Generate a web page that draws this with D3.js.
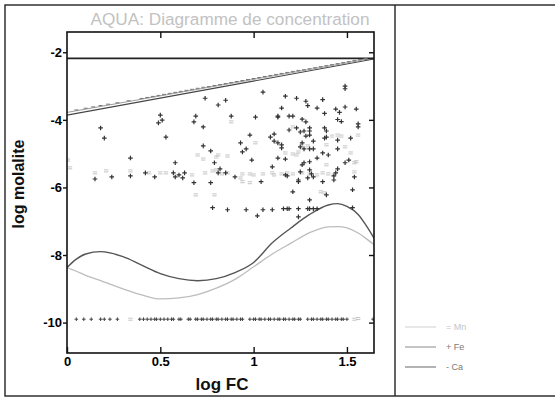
<!DOCTYPE html>
<html>
<head>
<meta charset="utf-8">
<script src="https://cdn.jsdelivr.net/npm/d3@7"></script>
<style>
  html, body { margin: 0; padding: 0; background: #fff; }
  svg { display: block; }
  text { font-family: "Liberation Sans", Arial, sans-serif; }
</style>
</head>
<body>
<svg id="chart" width="555" height="397"></svg>
<script>
// ---- axes ----
const xDomain = [0, 1.645];
const yDomain = [-10.9, -1.4];
const xTicks = [0, 0.5, 1, 1.5];
const yTicks = [-2, -4, -6, -8, -10];
const xTickLabels = ["0", "0.5", "1", "1.5"];
const yTickLabels = ["-2", "-4", "-6", "-8", "-10"];

// ---- Fe analyses (log FC, log molalite) ----
const fePoints = [
  [0.18,-4.24],[0.20,-4.54],[0.50,-3.86],[0.51,-4.01],[0.49,-4.09],[0.53,-4.51],
  [0.68,-4.06],[0.69,-3.89],[0.73,-4.21],[0.74,-3.36],[0.81,-3.56],[0.85,-3.42],
  [0.88,-3.89],[0.98,-4.45],[1.01,-3.92],[1.05,-3.18],[1.13,-3.92],[1.09,-4.51],
  [1.11,-4.42],[1.11,-4.63],[1.13,-4.68],[1.13,-3.89],[1.19,-3.89],[1.21,-3.89],
  [1.17,-3.30],[1.15,-3.65],[1.23,-3.36],[1.28,-3.45],[1.29,-3.58],[1.34,-3.65],
  [1.37,-3.40],[1.38,-3.81],[1.44,-3.68],[1.46,-3.78],[1.45,-3.99],[1.47,-4.05],
  [1.49,-3.62],[1.55,-3.68],[1.56,-4.12],[1.56,-4.21],[1.49,-3.00],[1.49,-3.08],
  [1.26,-3.98],[1.28,-4.06],[1.19,-4.30],[1.23,-4.24],[1.25,-4.36],[1.27,-4.33],
  [1.30,-4.24],[1.30,-4.33],[1.38,-4.24],[1.39,-4.33],[1.28,-4.48],[1.30,-4.45],
  [1.39,-4.51],[1.38,-4.54],[0.93,-4.68],[0.94,-4.95],[0.96,-4.86],
  [0.73,-4.77],[0.77,-4.92],[0.79,-5.27],[0.81,-5.57],[0.82,-5.45],[0.85,-5.57],
  [0.90,-5.69],[0.99,-5.19],[1.04,-5.83],[1.10,-5.39],[0.34,-5.13],[0.34,-5.66],
  [0.15,-5.75],[0.24,-5.69],[0.42,-5.57],[0.47,-5.69],[0.58,-5.27],[0.57,-5.57],
  [0.58,-5.69],[0.60,-5.63],[0.63,-5.57],[0.62,-5.72],[0.68,-5.86],[0.77,-5.86],
  [1.15,-4.74],[1.15,-4.83],[1.25,-4.80],[1.26,-4.68],[1.27,-4.86],[1.30,-4.86],
  [1.32,-4.86],[1.32,-4.63],[1.37,-4.98],[1.34,-5.13],[1.40,-5.04],[1.45,-4.60],
  [1.52,-4.54],[1.45,-4.86],[1.51,-5.19],[1.49,-5.27],[1.13,-5.13],[1.17,-5.16],
  [1.26,-5.33],[1.27,-5.27],[1.30,-5.24],[1.25,-5.54],[1.17,-5.63],[1.18,-5.66],
  [1.30,-5.48],[1.31,-5.60],[1.24,-5.78],[1.24,-5.83],[1.29,-5.72],[1.32,-5.69],
  [1.37,-5.83],[1.44,-5.57],[1.43,-5.66],[1.43,-5.78],[1.45,-5.45],[1.54,-5.69],
  [1.53,-6.07],[1.21,-6.13],[1.39,-6.22],[1.30,-6.37],[0.78,-6.60],[0.86,-6.66],
  [0.96,-6.66],[1.02,-6.84],[1.05,-6.66],[1.10,-6.66],[1.16,-6.63],[1.18,-6.63],
  [1.19,-6.63],[1.24,-6.63],[1.29,-6.63],[1.30,-6.63],[1.32,-6.63],[1.34,-6.63],
  [1.24,-6.87],[1.53,-6.60]
];

// Fe below detection limit, plotted at a fixed level
const feLimitLevel = -9.9;
const feLimitFc = [
  0.05,0.09,0.13,0.18,0.20,0.23,0.27,
  0.39,0.41,0.43,0.45,0.47,0.48,0.50,0.52,0.54,0.56,0.57,0.60,0.61,
  0.65,0.66,0.69,0.70,0.72,0.73,0.75,0.77,0.78,0.80,0.81,0.83,0.85,0.86,0.88,0.89,0.91,0.93,0.94,
  0.98,1.00,1.01,1.03,1.04,1.06,1.08,1.09,1.11,1.13,1.14,1.16,1.17,1.19,1.21,1.22,1.24,1.25,
  1.29,1.31,1.32,1.34,1.36,1.37,1.39,1.40,1.42,1.44,1.45,1.47,1.48,1.50,
  1.64
];

// ---- Mn analyses ----
const mnPoints = [
  [0.15,-5.57],[0.21,-5.51],[0.34,-5.51],[0.44,-5.57],[0.50,-5.57],[0.53,-5.57],
  [0.67,-5.63],[0.74,-5.57],[0.78,-5.51],[0.80,-5.48],[0.83,-5.60],[0.86,-5.57],
  [0.94,-5.60],[0.98,-5.60],[1.05,-5.60],[1.10,-5.57],[1.11,-5.63],[1.15,-5.60],
  [1.18,-5.57],[1.21,-5.60],[1.26,-5.57],[1.30,-5.60],[1.34,-5.63],[1.37,-5.57],
  [1.40,-5.60],[1.43,-5.63],
  [0.88,-4.06],[1.01,-4.68],[0.86,-5.07],[0.80,-5.10],[0.70,-5.04],[0.73,-5.16],
  [0.81,-5.04],[1.17,-4.98],[1.21,-5.01],[1.26,-4.71],[1.29,-4.77],[1.24,-4.95],
  [1.23,-5.04],[1.39,-4.74],[1.42,-4.48],[1.45,-4.45],[1.49,-4.80],[1.52,-4.98],
  [1.56,-4.45],[1.21,-4.21],[1.47,-4.48],[1.54,-5.54],[1.39,-5.33],[1.55,-5.24],
  [1.54,-5.27],[0.94,-5.83],[0.98,-5.86],[0.93,-5.72],[1.00,-5.63],[0.79,-6.22],
  [0.69,-6.22],[1.36,-6.13],[1.38,-6.16],[0.005,-5.19],[0.016,-5.42],
  [0.34,-9.90],[1.54,-9.90],[1.56,-9.88]
];

// ---- Ca analyses (on the dilution line) ----
const caPoints = [
  [0.05,-3.73],[0.10,-3.68],[0.14,-3.64],[0.18,-3.60],[0.22,-3.56],[0.27,-3.52],
  [0.33,-3.46],[0.40,-3.39],[0.43,-3.36],[0.46,-3.33],[0.49,-3.30],[0.52,-3.27],
  [0.55,-3.24],[0.58,-3.21],[0.61,-3.18],[0.64,-3.15],[0.67,-3.12],[0.70,-3.09],
  [0.73,-3.06],[0.76,-3.04],[0.79,-3.01],[0.82,-2.98],[0.85,-2.95],[0.88,-2.92],
  [0.91,-2.89],[0.94,-2.86],[0.97,-2.83],[1.00,-2.80],[1.03,-2.77],[1.06,-2.74],
  [1.09,-2.71],[1.12,-2.68],[1.15,-2.65],[1.18,-2.62],[1.21,-2.59],[1.24,-2.56],
  [1.27,-2.54],[1.30,-2.51],[1.33,-2.48],[1.36,-2.45],[1.39,-2.42],[1.42,-2.39],
  [1.45,-2.36],[1.48,-2.33],[1.51,-2.30],[1.54,-2.27],[1.57,-2.24],[1.60,-2.21]
];

// ---- reference lines ----
const saturationLevel = -2.18;
const dilutionLower = [[0, -3.86], [1.645, -2.20]];
const dilutionUpper = [[0, -3.78], [1.645, -2.17]];

// ---- fitted trends ----
const trendFc    = [0, 0.05, 0.1, 0.18, 0.3, 0.4, 0.5, 0.6, 0.7, 0.8, 0.9, 1.0, 1.1, 1.2, 1.3, 1.4, 1.45, 1.5, 1.56, 1.6, 1.645];
const trendDark  = [-8.37, -8.12, -7.97, -7.90, -8.05, -8.30, -8.55, -8.70, -8.76, -8.70, -8.52, -8.22, -7.64, -7.20, -6.80, -6.52, -6.48, -6.56, -6.80, -7.10, -7.50];
const trendLight = [-8.37, -8.48, -8.60, -8.76, -9.00, -9.18, -9.30, -9.27, -9.17, -8.98, -8.72, -8.35, -7.97, -7.65, -7.34, -7.17, -7.16, -7.20, -7.35, -7.50, -7.70];

// ---- legend ----
const legendLabels = ["= Mn", "+ Fe", "- Ca"];
const legendLineColors = ["#cfcfcf", "#8a8a8a", "#666"];
const legendTextColors = ["#c4c4c4", "#7a7a7a", "#7a7a7a"];

const svg = d3.select("#chart");
const plot = { left: 67, right: 374, top: 32, bottom: 353 };

const x = d3.scaleLinear().domain(xDomain).range([plot.left, plot.right]);
const y = d3.scaleLinear().domain(yDomain).range([plot.bottom, plot.top]);

// outer frame (right edge runs past the window) and panel divider
svg.append("rect").attr("x", 5).attr("y", 5).attr("width", 553).attr("height", 391)
  .attr("fill", "none").attr("stroke", "#222").attr("stroke-width", 1.4);
svg.append("line").attr("x1", 395).attr("x2", 395).attr("y1", 5).attr("y2", 396)
  .attr("stroke", "#222").attr("stroke-width", 1.4);

// title
svg.append("text").attr("x", 230).attr("y", 25).attr("text-anchor", "middle")
  .attr("font-size", 17.2).attr("fill", "#c2c2c2")
  .text("AQUA: Diagramme de concentration");

// clip region for data
svg.append("clipPath").attr("id", "plotClip").append("rect")
  .attr("x", plot.left).attr("y", plot.top)
  .attr("width", plot.right - plot.left).attr("height", plot.bottom - plot.top);
const g = svg.append("g").attr("clip-path", "url(#plotClip)");

// trend curves
const trendLine = d3.line().x(d => x(d[0])).y(d => y(d[1])).curve(d3.curveMonotoneX);
g.append("path").datum(trendFc.map((f, i) => [f, trendLight[i]]))
  .attr("d", trendLine).attr("fill", "none").attr("stroke", "#bdbdbd").attr("stroke-width", 1.3);
g.append("path").datum(trendFc.map((f, i) => [f, trendDark[i]]))
  .attr("d", trendLine).attr("fill", "none").attr("stroke", "#555").attr("stroke-width", 1.4);

// dilution lines and saturation level
const straight = d3.line().x(d => x(d[0])).y(d => y(d[1]));
g.append("path").datum(dilutionLower).attr("d", straight)
  .attr("fill", "none").attr("stroke", "#444").attr("stroke-width", 1.1);
g.append("path").datum(dilutionUpper).attr("d", straight)
  .attr("fill", "none").attr("stroke", "#9a9a9a").attr("stroke-width", 1);
g.append("line").attr("x1", x(xDomain[0])).attr("x2", x(xDomain[1]))
  .attr("y1", y(saturationLevel)).attr("y2", y(saturationLevel))
  .attr("stroke", "#222").attr("stroke-width", 1.6);

// Ca markers "-"
g.selectAll(".ca").data(caPoints).join("path").attr("class", "ca")
  .attr("transform", d => `translate(${x(d[0])},${y(d[1]) - 0.8})`)
  .attr("d", "M-2,0H2").attr("stroke", "#777").attr("stroke-width", 1);

// Mn markers "="
g.selectAll(".mn").data(mnPoints).join("path").attr("class", "mn")
  .attr("transform", d => `translate(${x(d[0])},${y(d[1])})`)
  .attr("d", "M-2.2,-1H2.2M-2.2,1H2.2").attr("stroke", "#bdbdbd").attr("stroke-width", 0.9)
  .attr("fill", "none");

// Fe markers "+"
const plus = "M-2.3,0H2.3M0,-2.3V2.3";
g.selectAll(".fe").data(fePoints).join("path").attr("class", "fe")
  .attr("transform", d => `translate(${x(d[0])},${y(d[1])})`)
  .attr("d", plus).attr("stroke", "#333").attr("stroke-width", 1.2).attr("fill", "none");
g.selectAll(".feLim").data(feLimitFc).join("path").attr("class", "feLim")
  .attr("transform", d => `translate(${x(d)},${y(feLimitLevel)})`)
  .attr("d", "M-1.8,0H1.8M0,-1.8V1.8").attr("stroke", "#444").attr("stroke-width", 1).attr("fill", "none");

// axes box
svg.append("rect").attr("x", plot.left).attr("y", plot.top)
  .attr("width", plot.right - plot.left).attr("height", plot.bottom - plot.top)
  .attr("fill", "none").attr("stroke", "#111").attr("stroke-width", 1.6);

const axisBottom = d3.axisBottom(x).tickValues(xTicks).tickSize(-6).tickPadding(4)
  .tickFormat((d, i) => xTickLabels[i]);
const axisLeft = d3.axisLeft(y).tickValues(yTicks).tickSize(4).tickPadding(1)
  .tickFormat((d, i) => yTickLabels[i]);
const axisTop = d3.axisTop(x).tickValues(xTicks.slice(1)).tickSize(-6).tickFormat("");
const axisRight = d3.axisRight(y).tickValues(yTicks).tickSize(-5).tickFormat("");

function styleAxis(sel) {
  sel.select(".domain").remove();
  sel.selectAll(".tick line").attr("stroke", "#111").attr("stroke-width", 1.4);
  sel.selectAll(".tick text").attr("fill", "#000").attr("font-size", 13)
    .attr("font-weight", "bold").attr("font-family", "'Liberation Sans', Arial, sans-serif");
}
svg.append("g").attr("transform", `translate(0,${plot.bottom})`).call(axisBottom).call(styleAxis);
svg.append("g").attr("transform", `translate(${plot.left},0)`).call(axisLeft).call(styleAxis);
svg.append("g").attr("transform", `translate(0,${plot.top})`).call(axisTop).call(styleAxis);
svg.append("g").attr("transform", `translate(${plot.right},0)`).call(axisRight).call(styleAxis);

// axis titles
svg.append("text").attr("x", 222).attr("y", 390).attr("text-anchor", "middle")
  .attr("font-size", 17).attr("font-weight", "bold").attr("fill", "#111").text("log FC");
svg.append("text").attr("transform", "translate(24,184) rotate(-90)").attr("text-anchor", "middle")
  .attr("font-size", 16).attr("font-weight", "bold").attr("fill", "#111").text("log molalite");

// legend
const legend = svg.append("g");
legendLabels.forEach((lab, i) => {
  const ly = 327 + i * 20;
  legend.append("line").attr("x1", 405).attr("x2", 436).attr("y1", ly).attr("y2", ly)
    .attr("stroke", legendLineColors[i]).attr("stroke-width", 1);
  legend.append("text").attr("x", 446).attr("y", ly + 3).attr("font-size", 9)
    .attr("fill", legendTextColors[i]).text(lab);
});
</script>
</body>
</html>
